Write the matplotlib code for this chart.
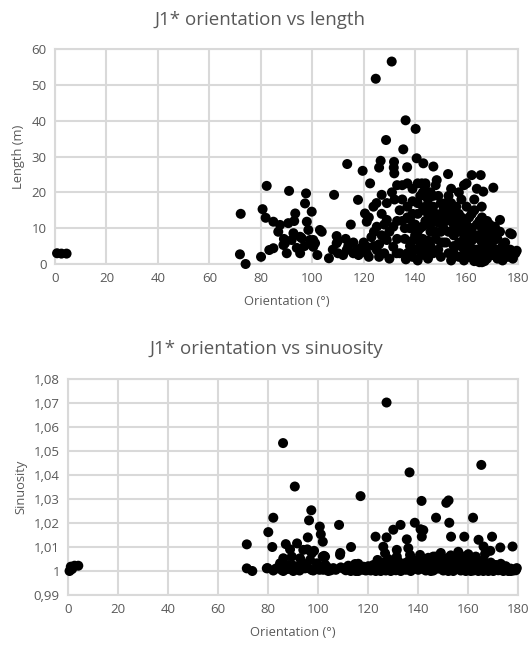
import matplotlib
matplotlib.use("Agg")
import matplotlib.pyplot as plt

# ---- J1* fractures: orientation (deg) vs length (m) ----
orient_len = [
    0.8, 2.5, 4.5,
    72.2, 71.9, 74.1, 80.1, 80.7, 82.3, 81.9, 83.3,
    130.9, 124.7, 136.3, 140.2, 128.7, 135.4, 113.6, 119.6, 126.6, 126.0,
    131.8, 131.7, 131.9, 136.9, 140.6, 143.2, 147.1, 152.8, 162.0, 165.5,
    170.4, 122.5, 108.5, 117.8, 115.0, 106.5, 136.4, 142.4, 179.5, 177.6,
    173.0, 165.9,
    91.0, 97.6, 97.2, 99.8, 93.4, 84.9, 87.5, 90.7, 97.9, 103.7, 86.8,
    92.7, 95.3, 99.1, 84.9, 89.4, 90.1, 95.3, 101.1,
    92.0, 95.9, 100.4, 88.8, 98.5, 103.0, 100.4, 93.0, 89.0, 97.0, 102.0, 94.0,
    109.5, 109.5, 113.4, 117.3, 121.2, 121.2, 125.1, 120.5, 121.2, 123.8,
    127.0, 125.1, 129.0, 131.5, 129.0, 131.5, 132.8,
    108, 110, 112, 114, 116, 118, 120, 122, 124, 126, 128, 130, 110, 113,
    116, 119, 123, 127, 130, 133, 134, 133, 134, 127, 129, 131, 133, 125,
    122, 124, 126, 128, 132,
    135, 137, 139, 141, 143, 144, 135, 137, 139, 141, 143, 145, 135, 138,
    140, 142, 144, 146, 136, 138, 140, 142, 144, 146, 137, 139, 141, 143,
    145, 147,
    146, 148, 147, 148, 149, 150, 151, 150, 152, 153, 154, 155, 156, 157,
    158, 159, 160, 152, 153, 154, 155, 156, 157, 158, 159, 160, 149, 151,
    154, 156, 158, 160, 148, 150, 152, 155, 157, 159, 160,
    161, 162, 163, 164, 165, 166, 167, 168, 169, 161, 162, 163, 164, 165,
    166, 167, 168, 169, 170, 162, 164, 166, 168, 170, 163, 165, 167,
    171, 172, 173, 174, 175, 176, 177, 178, 179, 171, 173, 175, 172, 174,
    144, 148.4, 160, 142.6, 166.5, 171, 176.9,
    136, 138, 139, 140, 141, 142, 143, 144, 145, 146, 147, 148, 149, 150,
    151, 151, 152, 153, 154, 155, 156, 157, 158, 159, 160, 161, 162, 163,
    164, 165, 166, 167, 168, 169, 170, 163, 161, 159, 157, 155, 153, 150,
    147, 145, 143, 141, 139, 137, 164, 166, 168, 170, 172, 174, 176, 178,
]
length_m = [
    3.0, 2.9, 2.9,
    14.0, 2.7, 0.0, 2.0, 15.3, 21.8, 12.9, 3.9,
    56.5, 51.7, 40.1, 37.7, 34.6, 32.0, 27.9, 26.0, 28.8, 26.9,
    28.5, 26.9, 25.3, 27.0, 29.5, 28.1, 27.2, 25.1, 24.8, 24.8,
    21.3, 22.5, 19.3, 17.9, 11.0, 1.6, 1.3, 2.5, 3.7, 8.3,
    12.3, 16.0,
    20.4, 19.7, 16.9, 14.6, 14.1, 11.8, 10.9, 11.4, 11.8, 9.0, 9.0,
    8.6, 7.6, 6.7, 4.4, 5.8, 3.0, 3.0, 5.8,
    6.7, 7.2, 6.7, 5.3, 9.5, 9.5, 4.8, 12.0, 7.0, 5.0, 2.5, 4.5,
    7.8, 5.8, 3.9, 3.9, 4.8, 3.0, 3.9, 14.1, 11.8, 16.0,
    19.3, 10.4, 12.3, 10.4, 6.7, 4.8, 3.0,
    4.0, 3.0, 2.5, 5.0, 3.0, 2.5, 6.0, 2.0, 5.0, 2.0, 3.0, 1.5, 6.5, 7.0,
    6.0, 4.5, 7.5, 8.0, 9.0, 12.0, 15.0, 7.0, 3.0, 14.0, 17.0, 20.0, 22.0, 17.0,
    13.0, 9.0, 5.5, 11.0, 18.0,
    22.0, 22.5, 21.0, 22.5, 20.0, 22.0, 18.0, 16.0, 14.0, 17.0, 15.0, 18.0, 12.0, 10.0,
    8.0, 10.0, 12.0, 9.0, 7.0, 5.0, 4.0, 6.0, 3.0, 5.0, 3.0, 2.0, 1.0, 7.0,
    14.0, 16.0,
    20.0, 22.0, 12.0, 7.0, 4.0, 2.0, 10.0, 14.0, 17.0, 19.0, 21.0, 15.0, 12.0, 20.0,
    18.0, 22.0, 16.0, 6.0, 3.0, 1.0, 8.0, 5.0, 2.0, 10.0, 7.0, 4.0, 19.0, 16.0,
    13.0, 9.0, 13.0, 11.0, 9.0, 6.0, 12.0, 3.0, 6.0, 1.0, 2.0,
    9.0, 14.0, 18.0, 21.0, 12.0, 6.0, 3.0, 8.0, 11.0, 5.0, 3.0, 1.0, 8.0, 2.0,
    0.5, 5.0, 1.5, 4.0, 6.0, 6.5, 4.0, 10.0, 4.0, 2.5, 0.8, 0.5, 0.8,
    3.0, 7.0, 2.0, 5.0, 3.0, 2.0, 4.0, 2.0, 3.0, 10.0, 9.0, 6.0, 1.5, 1.0,
    22.5, 23.4, 22.5, 22.5, 20.2, 10.4, 8.6,
    10.0, 12.5, 17.5, 11.0, 14.0, 19.0, 10.5, 16.0, 6.5, 11.0, 19.0, 14.0, 11.5, 9.0,
    6.0, 13.0, 15.0, 9.0, 17.0, 11.0, 16.0, 14.0, 5.0, 12.0, 8.0, 13.0, 10.0, 15.0,
    11.0, 7.0, 13.0, 9.0, 12.0, 7.0, 9.0, 4.0, 2.0, 4.0, 9.0, 5.0, 13.0, 17.0,
    3.0, 1.5, 4.5, 9.0, 6.5, 13.0, 2.0, 3.5, 6.0, 4.0, 4.0, 3.0, 4.0, 1.5,
]

# ---- J1* fractures: orientation (deg) vs sinuosity ----
orient_sin = [
    0.5, 1.0, 1.5, 2.5, 4.0,
    71.4, 71.4, 73.6, 79.4,
    85.9, 90.6, 127.3, 165.2, 136.5, 116.9, 141.3, 151.2, 152.1, 97.2, 96.3,
    82.0, 80.0, 81.6, 100.6, 101.0, 101.8, 108.3, 147.1, 161.9, 152.4, 138.6,
    140.9, 132.9, 130.0, 122.9, 127.3, 153.1, 158.4, 169.5, 164.1, 166.1,
    168.8, 172.8, 177.7, 95.8, 113.1, 108.8, 87.0, 91.5, 95.6, 98.3, 102.3,
    79.7, 179.4, 135.4, 142.0, 141.4, 166.7,
    88.7, 94.0, 97.4, 101.8, 86.0, 89.4, 92.7, 96.7, 84.7, 88.0, 91.4, 94.7,
    99.4, 103.4, 85.4, 90.0, 97.4, 83.0, 87.5, 92.5, 100.5, 104.5, 106.0,
    102.7, 102.7, 108.7, 114.7, 126.0, 126.7, 131.4, 131.4, 136.0, 136.7,
    140.7, 123.7, 134.5, 139.7, 118, 120, 122, 124, 128, 129, 130, 132, 133,
    135, 137, 138, 139, 141, 142, 107, 109, 111, 113, 115, 117, 119, 121,
    123, 125, 127, 129, 131, 133, 135, 137, 116,
    143, 144, 145, 146, 147, 148, 149, 150, 151, 152, 153, 154, 155, 156,
    157, 158, 159, 160, 161, 162, 163, 164, 165, 166, 167, 168, 169, 170,
    171, 172, 173, 174, 175, 176, 177, 178, 179, 144, 146, 148, 150, 152,
    154, 156, 158, 160, 162, 164, 166, 168, 143, 157, 161, 170, 174,
    82, 84, 86, 88, 90, 92, 94, 96, 98, 100, 102, 104, 110, 112,
    114, 116, 118, 120, 122, 124, 126, 128, 130, 132, 134, 136, 138, 140,
    142, 144, 145, 147, 149, 151, 153, 155, 157, 159, 161, 163, 165, 167,
    169, 171, 173, 175, 177, 179, 146, 150, 154, 158, 162, 166, 125, 121,
    113, 105,
]
sinuosity = [
    1.0000, 1.0018, 1.0008, 1.0022, 1.0022,
    1.0111, 1.0011, 1.0000, 1.0011,
    1.0533, 1.0352, 1.0702, 1.0442, 1.0411, 1.0312, 1.0292, 1.0284, 1.0294, 1.0253, 1.0211,
    1.0222, 1.0162, 1.0100, 1.0185, 1.0153, 1.0122, 1.0192, 1.0222, 1.0222, 1.0201, 1.0201,
    1.0174, 1.0192, 1.0172, 1.0143, 1.0140, 1.0143, 1.0143, 1.0143, 1.0130, 1.0102,
    1.0084, 1.0098, 1.0102, 1.0140, 1.0100, 1.0075, 1.0112, 1.0115, 1.0090, 1.0084, 1.0063,
    1.0012, 1.0012, 1.0132, 1.0170, 1.0143, 1.0071,
    1.0090, 1.0088, 1.0074, 1.0060, 1.0053, 1.0060, 1.0053, 1.0046, 1.0032, 1.0025, 1.0018, 1.0011,
    1.0032, 1.0018, 1.0004, 1.0000, 1.0004, 1.0010, 1.0008, 1.0002, 1.0005, 1.0008, 1.0012,
    1.0060, 1.0027, 1.0067, 1.0029, 1.0101, 1.0074, 1.0088, 1.0060, 1.0095, 1.0067,
    1.0067, 1.0046, 1.0032, 1.0039, 1.0005, 1.0020, 1.0010, 1.0030, 1.0050, 1.0025, 1.0010, 1.0040, 1.0015,
    1.0005, 1.0025, 1.0045, 1.0010, 1.0030, 1.0008, 1.0005, 1.0015, 1.0003, 1.0008, 1.0000, 1.0012, 1.0002, 1.0002,
    1.0000, 1.0008, 1.0002, 1.0000, 1.0003, 1.0000, 1.0018, 1.0000, 1.0030,
    1.0050, 1.0020, 1.0000, 1.0060, 1.0035, 1.0010, 1.0075, 1.0045, 1.0020, 1.0000, 1.0065, 1.0030, 1.0010, 1.0080,
    1.0050, 1.0025, 1.0000, 1.0070, 1.0040, 1.0015, 1.0060, 1.0030, 1.0005, 1.0045, 1.0020, 1.0000, 1.0035, 1.0010,
    1.0025, 1.0003, 1.0015, 1.0005, 1.0020, 1.0000, 1.0010, 1.0002, 1.0008, 1.0008, 1.0015, 1.0040, 1.0002, 1.0055,
    1.0008, 1.0030, 1.0060, 1.0010, 1.0045, 1.0000, 1.0015, 1.0030, 1.0002, 1.0002, 1.0000, 1.0000, 1.0000,
    1.0002, 1.0015, 1.0000, 1.0010, 1.0022, 1.0008, 1.0030, 1.0012, 1.0002, 1.0020, 1.0005, 1.0000, 1.0010, 1.0022,
    1.0012, 1.0000, 1.0018, 1.0008, 1.0025, 1.0012, 1.0035, 1.0015, 1.0028, 1.0008, 1.0022, 1.0040, 1.0015, 1.0005,
    1.0040, 1.0055, 1.0030, 1.0060, 1.0025, 1.0010, 1.0040, 1.0055, 1.0012, 1.0045, 1.0025, 1.0010, 1.0030, 1.0005,
    1.0018, 1.0008, 1.0030, 1.0008, 1.0000, 1.0003, 1.0002, 1.0030, 1.0000, 1.0008, 1.0002, 1.0000, 1.0000, 1.0015,
    1.0000, 1.0003,
]

x_ticks = [0, 20, 40, 60, 80, 100, 120, 140, 160, 180]
len_ticks = [0, 10, 20, 30, 40, 50, 60]
sin_ticks = [0.99, 1.00, 1.01, 1.02, 1.03, 1.04, 1.05, 1.06, 1.07, 1.08]
sin_tick_labels = ["0,99", "1", "1,01", "1,02", "1,03", "1,04", "1,05", "1,06", "1,07", "1,08"]

TEXT = "#595959"
GRID = "#d9d9d9"
FONT = ["Open Sans", "DejaVu Sans"]
MARKER_AREA = 52

plt.rcParams["font.family"] = FONT

fig = plt.figure(figsize=(5.31, 6.49), dpi=100)


def style_axes(ax):
    ax.set_facecolor("white")
    ax.grid(True, color=GRID, linewidth=1.5, zorder=0)
    ax.set_axisbelow(True)
    for sp in ax.spines.values():
        sp.set_color(GRID)
        sp.set_linewidth(1.5)
    ax.tick_params(axis="both", length=0, colors=TEXT, labelsize=9.5, pad=6)


ax1 = fig.add_axes([55 / 531, 1 - 264 / 649, 463 / 531, 215 / 649])
style_axes(ax1)
ax1.scatter(orient_len, length_m, s=MARKER_AREA, color="black", edgecolors="none",
            zorder=3, clip_on=False)
ax1.set_xlim(0, 180)
ax1.set_ylim(0, 60)
ax1.set_xticks(x_ticks)
ax1.set_yticks(len_ticks)
ax1.set_xlabel("Orientation (°)", color=TEXT, fontsize=9.3, labelpad=7)
ax1.set_ylabel("Length (m)", color=TEXT, fontsize=9.3, labelpad=5)

ax2 = fig.add_axes([68.3 / 531, 1 - 595 / 649, 450 / 531, 216 / 649])
style_axes(ax2)
ax2.scatter(orient_sin, sinuosity, s=MARKER_AREA, color="black", edgecolors="none",
            zorder=3, clip_on=False)
ax2.set_xlim(0, 180)
ax2.set_ylim(0.99, 1.08)
ax2.set_xticks(x_ticks)
ax2.set_yticks(sin_ticks)
ax2.set_yticklabels(sin_tick_labels)
ax2.set_xlabel("Orientation (°)", color=TEXT, fontsize=9.3, labelpad=7)
ax2.set_ylabel("Sinuosity", color=TEXT, fontsize=9.3, labelpad=5)

fig.text(260 / 531, 1 - 20 / 649, "J1* orientation vs length",
         ha="center", va="center", color=TEXT, fontsize=13.5)
fig.text(266 / 531, 1 - 349 / 649, "J1* orientation vs sinuosity",
         ha="center", va="center", color=TEXT, fontsize=13.5)

fig.savefig("out.png", dpi=100, facecolor="white")
